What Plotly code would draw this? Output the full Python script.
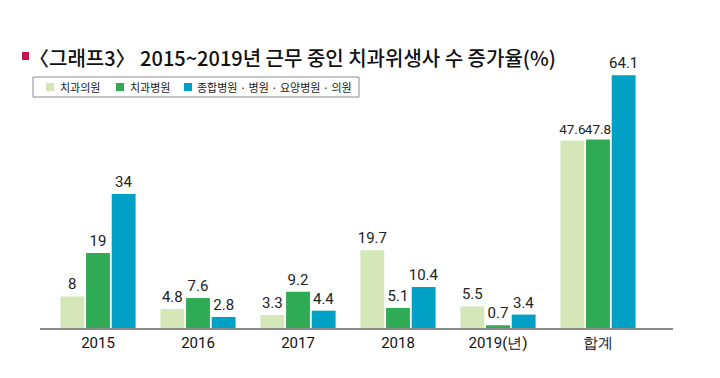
import plotly.graph_objects as go

categories = ["2015", "2016", "2017", "2018", "2019(년)", "합계"]
series_names = ["치과의원", "치과병원", "종합병원 · 병원 · 요양병원 · 의원"]
clinic = [8, 4.8, 3.3, 19.7, 5.5, 47.6]
hospital = [19, 7.6, 9.2, 5.1, 0.7, 47.8]
general = [34, 2.8, 4.4, 10.4, 3.4, 64.1]
colors = ["#d5e7b9", "#2fab55", "#00a1c5"]
title_text = "〈그래프3〉 2015~2019년 근무 중인 치과위생사 수 증가율(%)"

# the page body adds an 8px offset; the figure is sized to fit the window
OFF = 8
W, H = 720 - OFF, 378 - OFF
ML, MR, MT, MB = 40 - OFF, 47, 60 - OFF, 50
PW, PH = W - ML - MR, H - MT - MB

def px(x):  # page x -> paper
    return (x - OFF - ML) / PW

def py(y):  # page y -> paper
    return (H - MB - (y - OFF)) / PH

NUM_FONT = "Roboto"

fig = go.Figure()
for i, (name, vals, c) in enumerate(zip(series_names, [clinic, hospital, general], colors)):
    sizes = [15] * len(vals)
    if i < 2:
        sizes[-1] = 13.5  # tightly packed totals
    fig.add_trace(go.Bar(
        x=categories, y=vals, name=name, marker=dict(color=c, line=dict(width=0)),
        text=[f"{v:g}" for v in vals], textposition="outside", cliponaxis=False,
        constraintext="none",
        textfont=dict(family=NUM_FONT, size=sizes, color="#222"),
        showlegend=False,
    ))

fig.update_layout(
    width=W, height=H,
    margin=dict(l=ML, r=MR, t=MT, b=MB, autoexpand=False),
    paper_bgcolor="white", plot_bgcolor="white",
    barmode="group", bargap=0.23, bargroupgap=0.07,
    font=dict(family="Noto Sans CJK KR"),
    showlegend=False,
    xaxis=dict(range=[-0.58, 5.75], showline=True, linecolor="#8a8a8a", linewidth=1.5,
               ticks="", tickfont=dict(family=NUM_FONT, size=15, color="#111"),
               showgrid=False, zeroline=False),
    yaxis=dict(range=[0, 68.0], visible=False, showgrid=False, zeroline=False),
)

# title
fig.add_shape(type="rect", xref="paper", yref="paper", x0=px(22), x1=px(29), y0=py(60), y1=py(52),
              fillcolor="#c2174b", line=dict(width=0))
fig.add_annotation(xref="paper", yref="paper", x=px(27), y=py(57), xanchor="left", yanchor="middle",
                   text=title_text, showarrow=False,
                   font=dict(family="Noto Sans CJK KR", size=20, color="#111", weight=500))

# legend (manual)
fig.add_shape(type="rect", xref="paper", yref="paper", x0=px(33), x1=px(359), y0=py(97), y1=py(77),
              fillcolor="white", line=dict(color="#8a8a8a", width=1))
legend_sq = [46, 116, 184]
legend_tx = [58, 128, 195]
for name, c, sx, tx in zip(series_names, colors, legend_sq, legend_tx):
    fig.add_shape(type="rect", xref="paper", yref="paper", x0=px(sx), x1=px(sx + 8),
                  y0=py(91), y1=py(83), fillcolor=c, line=dict(width=0))
    fig.add_annotation(xref="paper", yref="paper", x=px(tx), y=py(87), xanchor="left",
                       yanchor="middle", text=name, showarrow=False,
                       font=dict(family="Noto Sans CJK KR", size=11, color="#222"))

fig.write_html("out.html")
